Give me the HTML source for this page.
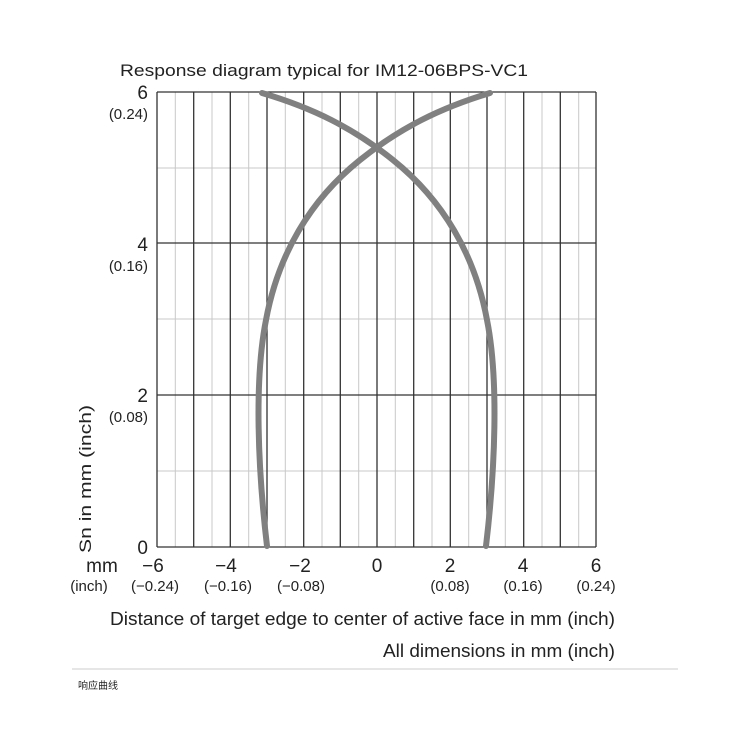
<!DOCTYPE html>
<html><head><meta charset="utf-8"><style>
body{margin:0;background:#fff;}
svg text{font-family:"Liberation Sans","Noto Sans CJK SC",sans-serif;fill:#222;}
</style></head><body>
<svg width="750" height="750" viewBox="0 0 750 750" xmlns="http://www.w3.org/2000/svg">
<rect width="750" height="750" fill="#fff"/>
<g stroke="#c8c8c8" stroke-width="1">
<line x1="175.3" y1="92" x2="175.3" y2="547"/><line x1="212" y1="92" x2="212" y2="547"/><line x1="248.7" y1="92" x2="248.7" y2="547"/><line x1="285.3" y1="92" x2="285.3" y2="547"/><line x1="322" y1="92" x2="322" y2="547"/><line x1="358.7" y1="92" x2="358.7" y2="547"/><line x1="395.3" y1="92" x2="395.3" y2="547"/><line x1="432" y1="92" x2="432" y2="547"/><line x1="468.7" y1="92" x2="468.7" y2="547"/><line x1="505.3" y1="92" x2="505.3" y2="547"/><line x1="542" y1="92" x2="542" y2="547"/><line x1="578.7" y1="92" x2="578.7" y2="547"/>
<line x1="157" y1="471" x2="596" y2="471"/><line x1="157" y1="319" x2="596" y2="319"/><line x1="157" y1="168" x2="596" y2="168"/>
</g>
<g stroke="#333" stroke-width="1.3">
<line x1="157" y1="92" x2="157" y2="547"/><line x1="193.7" y1="92" x2="193.7" y2="547"/><line x1="230.3" y1="92" x2="230.3" y2="547"/><line x1="267" y1="92" x2="267" y2="547"/><line x1="303.7" y1="92" x2="303.7" y2="547"/><line x1="340.3" y1="92" x2="340.3" y2="547"/><line x1="377" y1="92" x2="377" y2="547"/><line x1="413.7" y1="92" x2="413.7" y2="547"/><line x1="450.3" y1="92" x2="450.3" y2="547"/><line x1="487" y1="92" x2="487" y2="547"/><line x1="523.7" y1="92" x2="523.7" y2="547"/><line x1="560.3" y1="92" x2="560.3" y2="547"/><line x1="596" y1="92" x2="596" y2="547"/>
<line x1="157" y1="92" x2="596" y2="92"/><line x1="157" y1="243" x2="596" y2="243"/><line x1="157" y1="395" x2="596" y2="395"/><line x1="157" y1="547" x2="596" y2="547"/>
</g>
<g fill="none" stroke="#808080" stroke-width="6" stroke-linecap="round">
<path d="M267,546 C258,470 254,380 266,320 C278,255 310,200 360,160 C400,128 440,108 490,93"/>
<path d="M486,546 C495,470 499,380 487,320 C475,255 443,200 393,160 C353,128 313,108 262,93"/>
</g>
<text x="120" y="76" font-size="17" textLength="408" lengthAdjust="spacingAndGlyphs">Response diagram typical for IM12-06BPS-VC1</text>
<g font-size="19" text-anchor="end">
<text x="148" y="99">6</text><text x="148" y="251">4</text><text x="148" y="402">2</text><text x="148" y="554">0</text>
</g>
<g font-size="15" text-anchor="end">
<text x="148" y="119">(0.24)</text><text x="148" y="271">(0.16)</text><text x="148" y="422">(0.08)</text>
</g>
<text transform="translate(91,553) rotate(-90)" font-size="17" textLength="148" lengthAdjust="spacingAndGlyphs">Sn in mm (inch)</text>
<g font-size="19" text-anchor="middle">
<text x="102" y="572">mm</text>
<text x="153" y="572">−6</text><text x="226" y="572">−4</text><text x="300" y="572">−2</text><text x="377" y="572">0</text><text x="450" y="572">2</text><text x="523" y="572">4</text><text x="596" y="572">6</text>
</g>
<g font-size="15" text-anchor="middle">
<text x="89" y="591">(inch)</text><text x="155" y="591">(−0.24)</text><text x="228" y="591">(−0.16)</text><text x="301" y="591">(−0.08)</text><text x="450" y="591">(0.08)</text><text x="523" y="591">(0.16)</text><text x="596" y="591">(0.24)</text>
</g>
<text x="110" y="625" font-size="18" textLength="505" lengthAdjust="spacingAndGlyphs">Distance of target edge to center of active face in mm (inch)</text>
<text x="383" y="657" font-size="18" textLength="232" lengthAdjust="spacingAndGlyphs">All dimensions in mm (inch)</text>
<line x1="72" y1="669" x2="678" y2="669" stroke="#ddd" stroke-width="1.5"/>
<text x="78" y="689" font-size="10">响应曲线</text>
</svg>
</body></html>
